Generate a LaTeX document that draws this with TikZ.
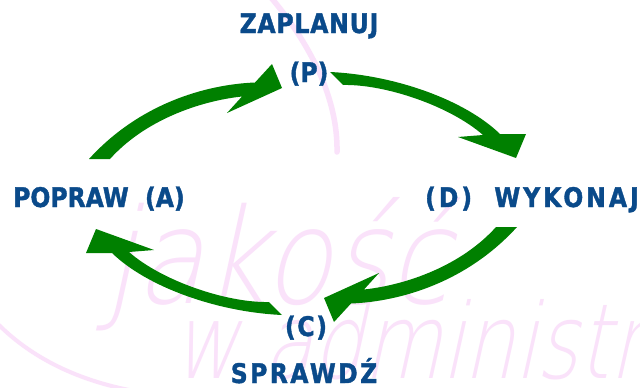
\documentclass[tikz,border=0pt]{standalone}
\usepackage{fontspec}
\newfontfamily\labfont{DejaVu Sans}[FakeStretch=0.87,FakeBold=1.4]
\newfontfamily\wmfont{DejaVu Sans ExtraLight}[FakeSlant=0.22,FakeStretch=0.84]
\newfontfamily\wmfontnarrow{DejaVu Sans ExtraLight}[FakeSlant=0.22,FakeStretch=0.77]
\definecolor{pdcablue}{RGB}{10,74,138}
\definecolor{pdcagreen}{RGB}{0,128,0}
\definecolor{wmpink}{RGB}{250,226,250}
\tikzset{
  stage/.style={inner sep=0pt, text=pdcablue,
    font=\labfont\bfseries\fontsize{27}{27}\selectfont},
  wm/.style={inner sep=0pt, text=wmpink},
  % curved arrow leaving a stage (upper-left / lower-right pair)
  cyclearrowA/.pic={
    \fill[pdcagreen] (89,159) .. controls (139,104) and (205,84.5) .. (255,82.5)
      -- (272,64) -- (282,88) -- (227,113) -- (242,96.5)
      .. controls (200,101) and (145,120) .. (110,159) -- cycle;
  },
  % curved arrow leaving a stage (upper-right / lower-left pair)
  cyclearrowB/.pic={
    \fill[pdcagreen] (330,72) .. controls (395,75) and (465,100) .. (500,134)
      -- (526,134) -- (516,158) -- (458,137) -- (483,135)
      .. controls (450,106) and (385,84) .. (343,85) -- cycle;
  }
}
\begin{document}
\begin{tikzpicture}[x=1pt,y=-1pt]
\useasboundingbox (0,0) rectangle (640,388);
\fill[white] (0,0) rectangle (640,388);

% faint logo behind the cycle
\begin{scope}
  \clip (0,0) rectangle (640,388);
  \draw[wmpink, line width=5.5pt, line cap=round]
    (268,-6) .. controls (312,45) and (338,100) .. (337,152);
  \draw[wmpink, line width=4pt]
    (-6,320) .. controls (30,358) and (80,382) .. (140,392);
  \node[wm, anchor=base west, font=\wmfont\fontsize{132}{132}\selectfont]
    (wmq) at (104,303) {jakość};
  \node[wm, anchor=base west, font=\wmfontnarrow\fontsize{104}{104}\selectfont]
    (wma) at (172,378) {w administr};
\end{scope}

% arrows of the cycle
\pic (toP) at (0,0) {cyclearrowA};
\pic (toD) at (0,0) {cyclearrowB};
\pic[rotate=180] (toC) at (606,386) {cyclearrowA};
\pic[rotate=180] (toA) at (612,387) {cyclearrowB};

% stage labels
\node[stage, anchor=base] (plan) at (309,33)
  {\addfontfeatures{LetterSpace=3}ZAPLANUJ};
\node[stage, anchor=base] (planP) at (309,82) {(P)};
\node[stage, anchor=base west] (act) at (13,207) {POPRAW\ \ (A)};
\node[stage, anchor=base east] (do) at (639,207)
  {\addfontfeatures{LetterSpace=11}(D)\ \ WYKONAJ};
\node[stage, anchor=base] (checkC) at (306,336)
  {\addfontfeatures{LetterSpace=6}(C)};
\node[stage, anchor=base] (check) at (304,383)
  {\addfontfeatures{LetterSpace=9}SPRAWDŹ};
\end{tikzpicture}
\end{document}
